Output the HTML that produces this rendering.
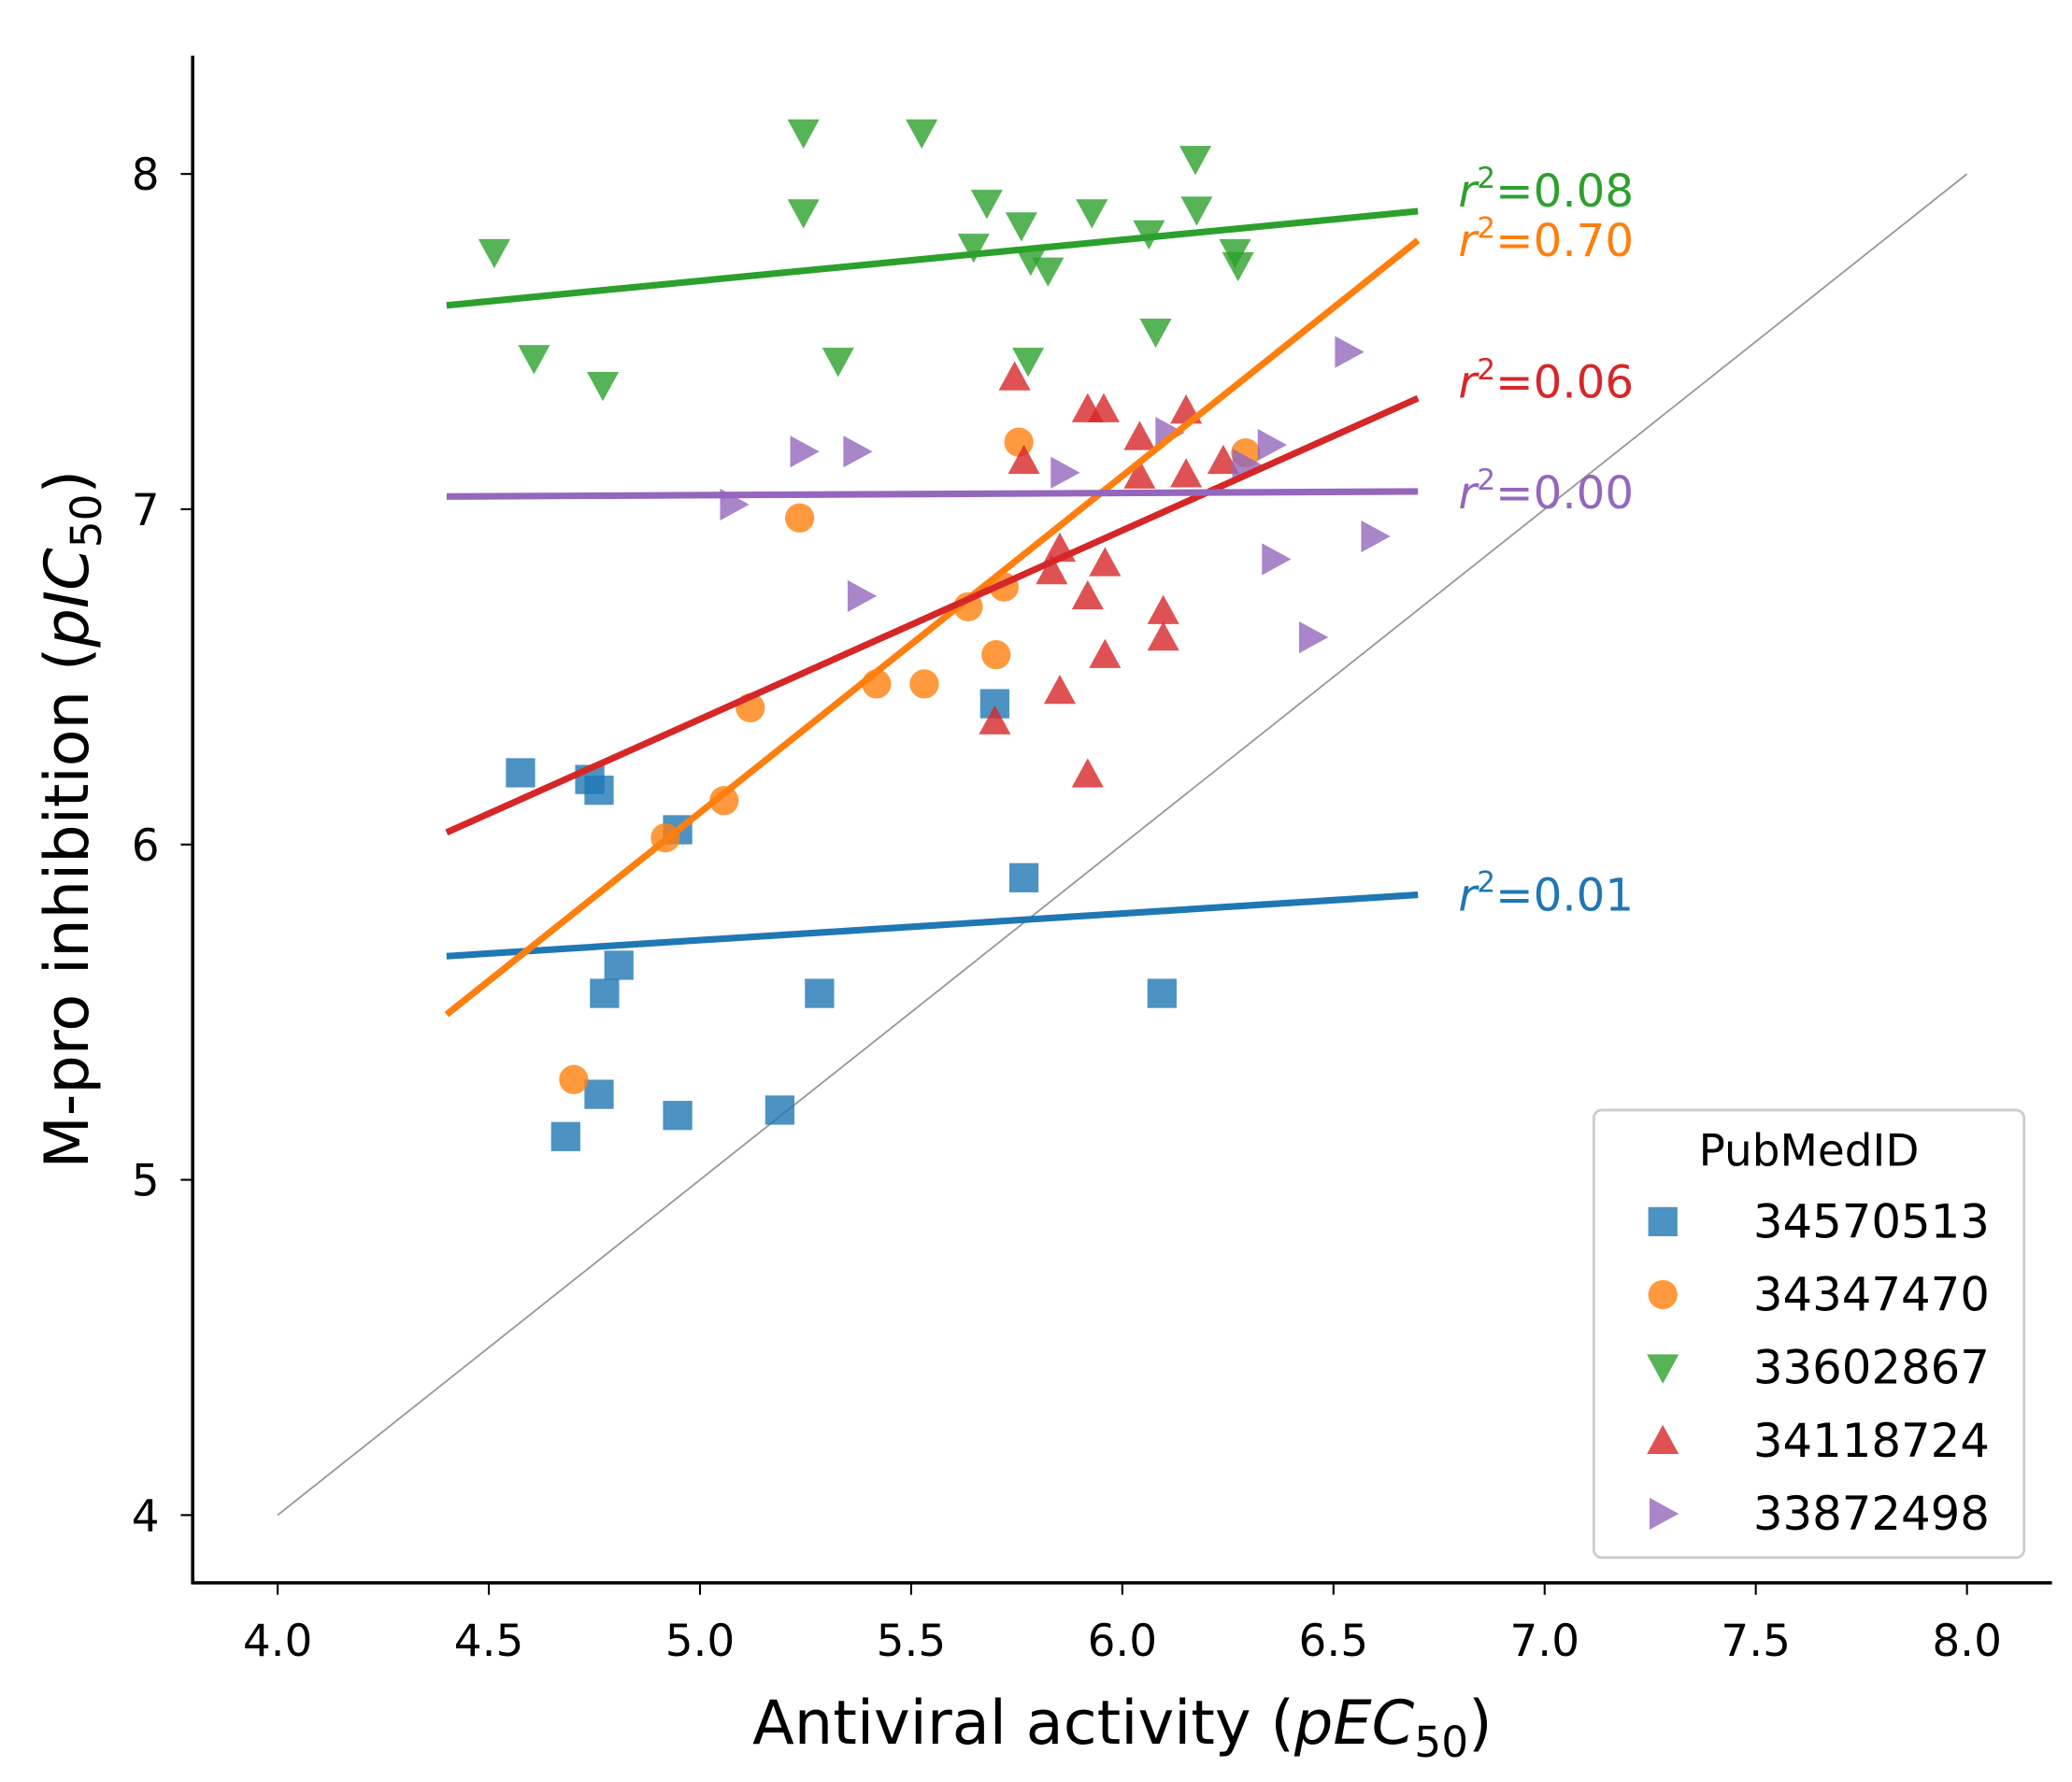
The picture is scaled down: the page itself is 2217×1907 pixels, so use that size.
<!DOCTYPE html>
<html><head><meta charset="utf-8"><style>
html,body{margin:0;padding:0;background:#fff}
svg{display:block;font-family:"DejaVu Sans","Liberation Sans",sans-serif}
</style></head><body>
<svg id="chart" width="2217" height="1907" viewBox="0 0 1560 1342" xmlns="http://www.w3.org/2000/svg">
<rect width="1560" height="1342" fill="#fff"/>
<g id="plot"></g>
<text x="845" y="1313" font-size="46" text-anchor="middle">Antiviral activity (<tspan font-style="italic">pEC</tspan><tspan font-size="32" dy="10">50</tspan><tspan dy="-10">)</tspan></text>
<text transform="translate(66,617) rotate(-90)" font-size="46" text-anchor="middle">M-pro inhibition (<tspan font-style="italic">pIC</tspan><tspan font-size="32" dy="10">50</tspan><tspan dy="-10">)</tspan></text>
<g>
<rect x="1200" y="836" width="324" height="337" rx="6" fill="#fff" stroke="#ccc" stroke-width="2"/>
<text x="1362" y="878" font-size="33" text-anchor="middle">PubMedID</text>
<g id="legend-entries"></g>
</g>
</svg>
<script>
const ids = ["34570513","34347470","33602867","34118724","33872498"];
const colors = ["#1f77b4","#ff7f0e","#2ca02c","#d62728","#9467bd"];
const markers = ["square","circle","down","up","right"];
const xBlue = [4.575,4.739,4.761,4.947,4.808,4.774,5.283,4.761,4.682,4.947,5.189,5.698,5.767,6.094];
const yBlue = [6.214,6.194,6.162,6.044,5.640,5.556,5.556,5.255,5.129,5.192,5.208,6.420,5.901,5.556];
const xOrange = [4.701,4.918,5.057,5.119,5.236,5.418,5.531,5.635,5.720,5.701,5.755,6.292];
const yOrange = [5.299,6.020,6.131,6.408,6.974,6.479,6.479,6.709,6.768,6.566,7.200,7.168];
const xGreen = [4.513,4.607,4.770,5.245,5.245,5.327,5.525,5.648,5.679,5.761,5.783,5.824,5.777,5.928,6.063,6.079,6.173,6.176,6.267,6.274];
const yGreen = [7.766,7.450,7.370,8.123,7.885,7.442,8.123,7.782,7.913,7.846,7.743,7.711,7.442,7.885,7.822,7.529,8.044,7.893,7.766,7.727];
const xRed = [5.745,5.767,5.698,5.833,5.852,5.852,5.918,5.918,5.918,5.956,5.959,5.959,6.041,6.041,6.097,6.097,6.151,6.151,6.239];
const yRed = [7.394,7.145,6.368,6.816,6.883,6.459,6.741,6.210,7.299,7.299,6.840,6.566,7.216,7.101,6.697,6.618,7.295,7.105,7.145];
const xPurple = [5.079,5.245,5.371,5.381,5.862,6.110,6.292,6.352,6.362,6.450,6.535,6.597];
const yPurple = [7.014,7.172,7.172,6.741,7.109,7.228,7.133,7.192,6.851,6.618,7.469,6.919];
const lineX0 = 4.4, lineX1 = 6.7;
const lineY0 = [5.667,5.493,7.608,6.036,7.038];
const lineY1 = [5.850,7.802,7.889,7.331,7.053];
const r2Labels = ["0.01","0.70","0.08","0.06","0.00"];
const r2LabelY = [5.850,7.802,7.950,7.380,7.050];
const xTicks = [4.0,4.5,5.0,5.5,6.0,6.5,7.0,7.5,8.0];
const yTicks = [4,5,6,7,8];

const NS="http://www.w3.org/2000/svg";
const sx = v => 209 + (v-4)*318;
const sy = v => 131 + (8-v)*252.5;
const plot = document.getElementById('plot');
function mk(tag, attrs, parent){const e=document.createElementNS(NS,tag);for(const k in attrs)e.setAttribute(k,attrs[k]);(parent||plot).appendChild(e);return e;}

let d = mk('line',{x1:sx(4),y1:sy(4),x2:sx(8),y2:sy(8),stroke:'#999','stroke-width':1.3});



function marker(type,cx,cy,color,parent){
  const r=11; let e;
  if(type==='square') e=mk('rect',{x:cx-r,y:cy-r,width:2*r,height:2*r},parent);
  else if(type==='circle') e=mk('circle',{cx:cx,cy:cy,r:r},parent);
  else {
    let p;
    if(type==='down') p=[[cx-12,cy-10],[cx+12,cy-10],[cx,cy+12]];
    else if(type==='up') p=[[cx-12,cy+10],[cx+12,cy+10],[cx,cy-12]];
    else p=[[cx-10,cy-12],[cx-10,cy+12],[cx+12,cy]];
    e=mk('polygon',{points:p.map(q=>q.join(',')).join(' ')},parent);
  }
  e.setAttribute('fill',color); e.setAttribute('fill-opacity',0.8);
  return e;
}
const xs=[xBlue,xOrange,xGreen,xRed,xPurple], ys=[yBlue,yOrange,yGreen,yRed,yPurple];
for(let s=0;s<5;s++){
  for(let i=0;i<xs[s].length;i++){
    const m=marker(markers[s],sx(xs[s][i]),sy(ys[s][i]),colors[s]);
    
    
  }
}
for(let s=0;s<5;s++){
  const l=mk('line',{x1:sx(lineX0),y1:sy(lineY0[s]),x2:sx(lineX1),y2:sy(lineY1[s]),stroke:colors[s],'stroke-width':5});
  
  
  const t=mk('text',{x:1098,y:sy(r2LabelY[s])+12,fill:colors[s],'font-size':34});
  
  
  t.innerHTML='<tspan font-style="italic">r</tspan><tspan font-size="22" dy="-14">2</tspan><tspan dy="14">='+r2Labels[s]+'</tspan>';
}
let a=mk('line',{x1:145,y1:42,x2:145,y2:1193,stroke:'#000','stroke-width':2.5});


a=mk('line',{x1:144,y1:1192,x2:1545,y2:1192,stroke:'#000','stroke-width':2.5});


xTicks.forEach(v=>{
  const t=mk('line',{x1:sx(v),y1:1192,x2:sx(v),y2:1201,stroke:'#000','stroke-width':1.5});
  
  
  const l=mk('text',{x:sx(v),y:1247,'font-size':33,'text-anchor':'middle'});
  
  
  l.textContent=v.toFixed(1);
});
yTicks.forEach(v=>{
  const t=mk('line',{x1:136,y1:sy(v),x2:145,y2:sy(v),stroke:'#000','stroke-width':1.5});
  
  
  const l=mk('text',{x:120,y:sy(v)+12,'font-size':33,'text-anchor':'end'});
  
  
  l.textContent=v;
});
const lg=document.getElementById('legend-entries');
for(let s=0;s<5;s++){
  const y=920+s*55;
  const m=marker(markers[s],1252,y,colors[s],lg);
  
  
  const t=mk('text',{x:1320,y:y+12,'font-size':35},lg);
  
  
  t.textContent=ids[s];
}
</script>
</body></html>
